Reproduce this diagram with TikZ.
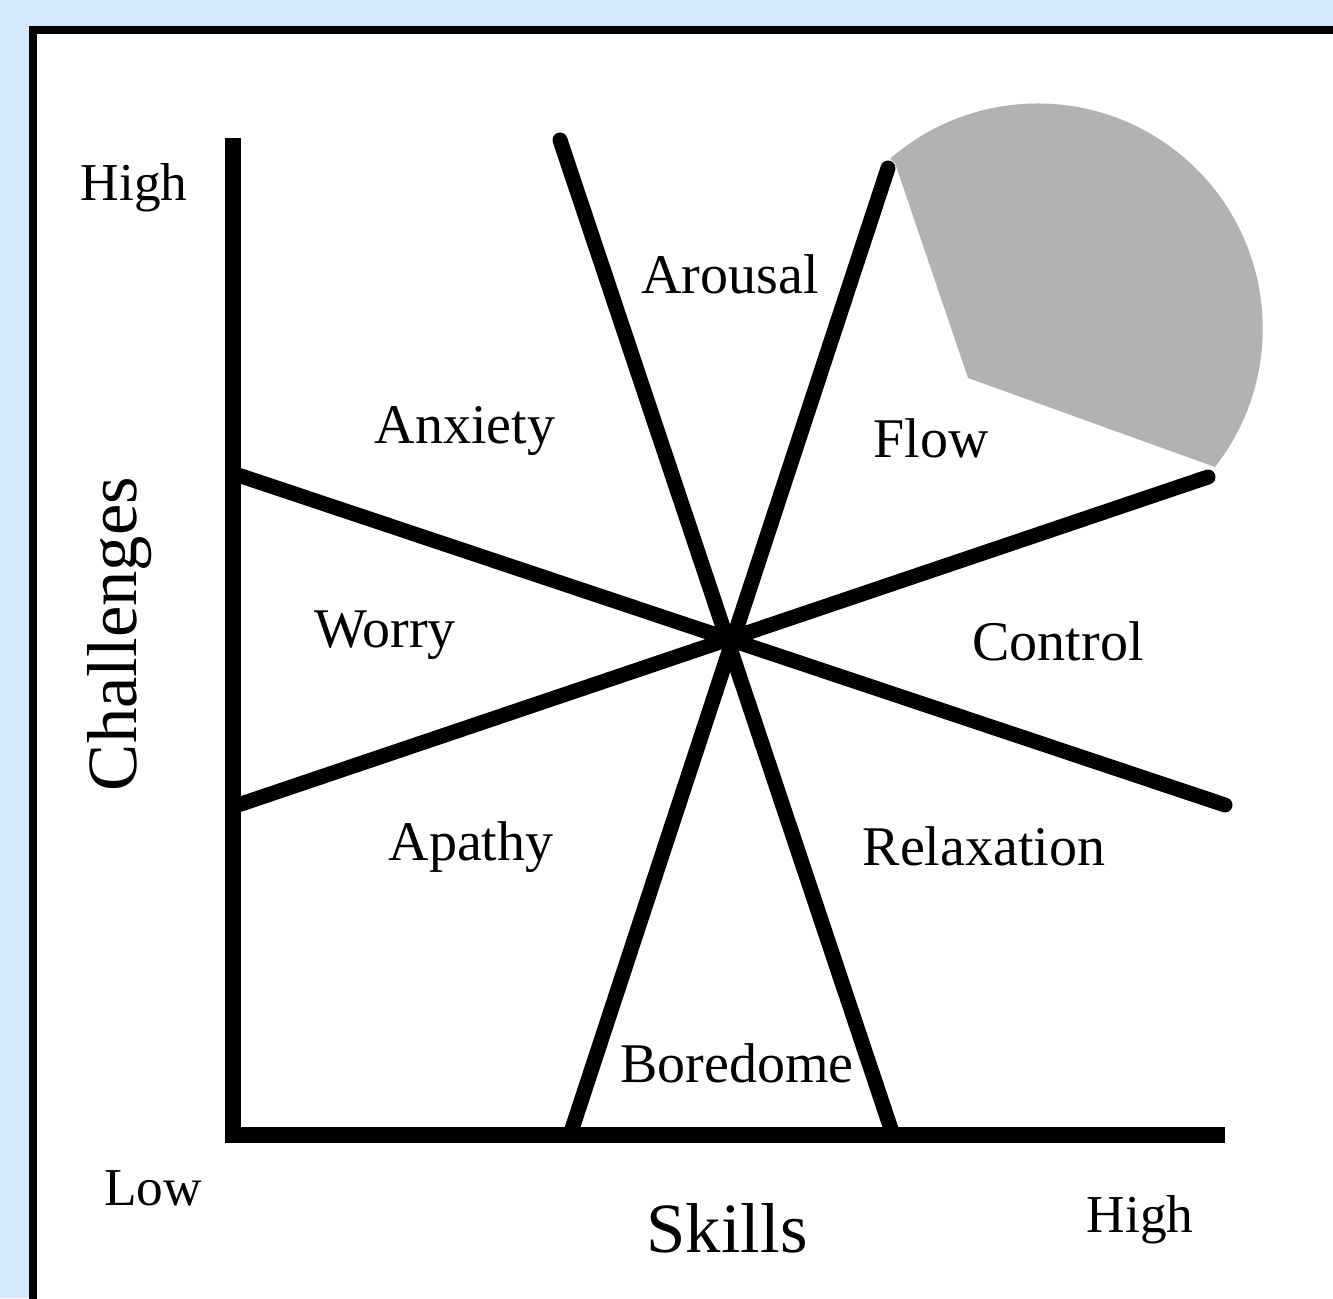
\documentclass[tikz,border=0pt]{standalone}
\usepackage{fontspec}
\setmainfont{Liberation Serif}
\definecolor{bgblue}{HTML}{D4E9FC}
\definecolor{flowgray}{HTML}{B2B2B2}
\begin{document}
\begin{tikzpicture}[x=0.75pt,y=-0.75pt,
  axis/.style={line width=12pt,line join=miter},
  ray/.style={line width=11.25pt,line cap=round},
  lab/.style={anchor=base,inner sep=0pt,font=\fontsize{42}{48}\selectfont},
  axlab/.style={anchor=base,inner sep=0pt,font=\fontsize{40}{46}\selectfont},
  biglab/.style={anchor=base,inner sep=0pt,font=\fontsize{53}{60}\selectfont}]
\useasboundingbox (0,0) rectangle (1333,1298);
\fill[bgblue] (0,0) rectangle (1333,1298);
\draw[line width=6pt,fill=white] (33,30) rectangle (1420,1400);
% gray flow region
\coordinate (ga) at (895,163);
\coordinate (gv) at (968,378);
\coordinate (gb) at (1215,467);
\fill[flowgray] (ga) -- (gv) -- (gb) arc[start angle=38, end angle=-131, radius=225] -- cycle;
% axes
\coordinate (ytop) at (233,138);
\coordinate (origin) at (233,1135);
\coordinate (xend) at (1225,1135);
\draw[axis] (ytop) -- (origin) -- (xend);
% rays
\coordinate (l1a) at (560,140);  \coordinate (l1b) at (893,1135);
\coordinate (l2a) at (888,168);  \coordinate (l2b) at (570,1135);
\coordinate (l3a) at (238,475);  \coordinate (l3b) at (1225,805);
\coordinate (l4a) at (238,805);  \coordinate (l4b) at (1208,477);
\draw[ray] (l1a) -- (l1b);
\draw[ray] (l2a) -- (l2b);
\draw[ray] (l3a) -- (l3b);
\draw[ray] (l4a) -- (l4b);
% labels
\node[lab] (arousal) at (730,293) {Arousal};
\node[lab] (anxiety) at (465,443) {Anxiety};
\node[lab] (flow) at (931,457) {Flow};
\node[lab] (worry) at (385,647) {Worry};
\node[lab] (control) at (1058,660) {Control};
\node[lab] (apathy) at (471,860) {Apathy};
\node[lab] (relax) at (984,865) {Relaxation};
\node[lab] (bored) at (737,1082) {Boredome};
\node[axlab] (hightop) at (134,201) {High};
\node[axlab] (low) at (153,1205) {Low};
\node[axlab] (highright) at (1140,1232) {High};
\node[biglab] (skills) at (727,1252) {Skills};
\node[biglab,rotate=90] (chal) at (136,634) {Challenges};
\end{tikzpicture}
\end{document}
